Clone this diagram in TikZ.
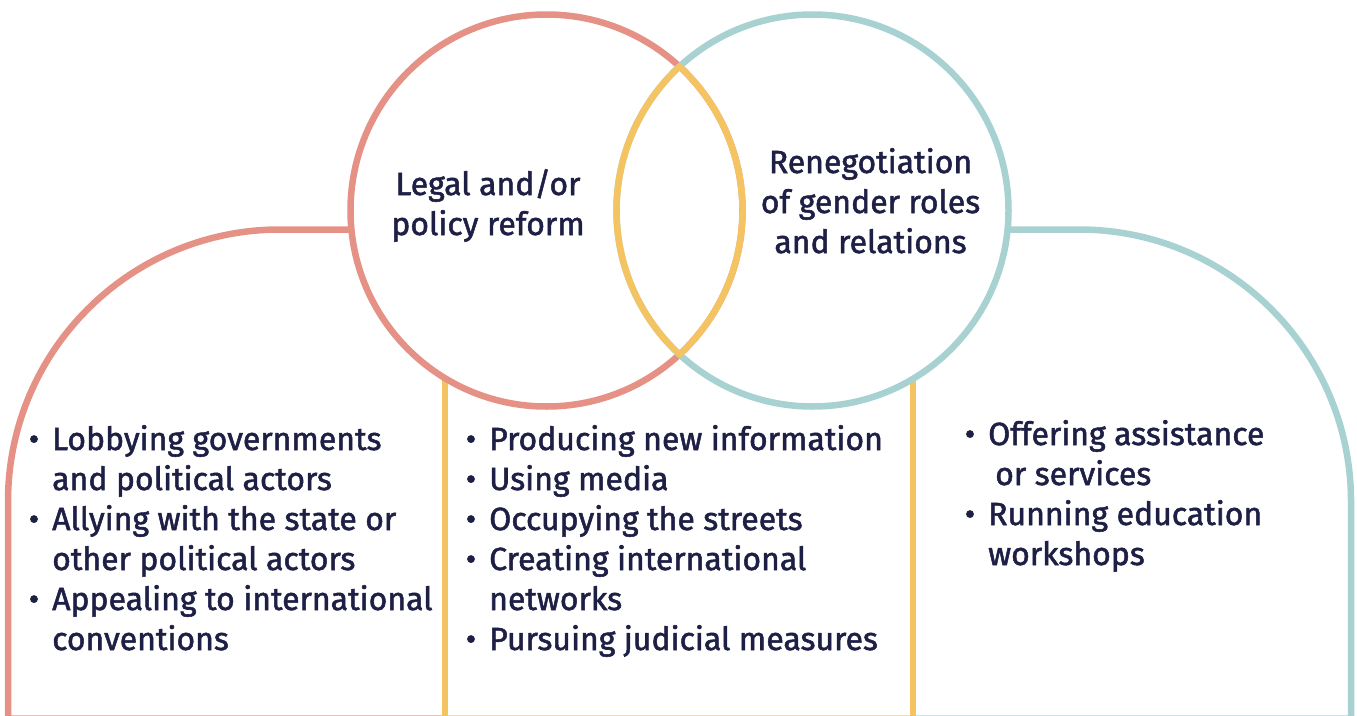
\documentclass[tikz,border=0pt]{standalone}
\usepackage{fontspec}
\setmainfont{Fira Sans}[FakeBold=1.6]
\definecolor{salmon}{RGB}{229,145,134}
\definecolor{tealc}{RGB}{167,210,209}
\definecolor{gold}{RGB}{245,196,98}
\definecolor{ink}{RGB}{30,31,69}
\begin{document}
\begin{tikzpicture}[x=1pt,y=-1pt,
  ring/.style={line width=6.5pt},
  txt/.style={inner sep=0pt, text=ink, font=\fontsize{32}{40}\selectfont},
  lbl/.style={txt, anchor=base},
  itm/.style={txt, anchor=base west},
  bul/.style={txt, anchor=base}]
\useasboundingbox (0,0) rectangle (1357,715);
\clip (0,0) rectangle (1357,715);
\fill[white] (0,0) rectangle (1357,715);
% bottom faint edge
\draw[line width=2pt, salmon!60] (8,715.5) -- (445,715.5);
\draw[line width=2pt, gold!60] (445,715.5) -- (913,715.5);
\draw[line width=2pt, tealc!60] (913,715.5) -- (1351,715.5);
% yellow dividers
\draw[ring,gold] (445,378) -- (445,720);
\draw[ring,gold] (913,378) -- (913,720);
% arches
\draw[ring,salmon] (352,229.5) -- (280,229.5) arc[start angle=-90,end angle=-180,radius=272] -- (8,720);
\draw[ring,tealc] (1007,229.5) -- (1079,229.5) arc[start angle=-90,end angle=0,radius=272] -- (1351,720);
% circles
\draw[ring,salmon] (546.5,210.5) circle[radius=196];
\draw[ring,tealc] (812.5,210.5) circle[radius=196];
% lens
\draw[ring,gold,line join=round] (679.5,66.5) arc[start angle=-47.27,end angle=47.27,radius=196]
  arc[start angle=132.73,end angle=227.27,radius=196] -- cycle;
% circle labels
\node[lbl] (l1) at (488,195) {Legal and/or};
\node[lbl] (l2) at (488,235) {policy reform};
\node[lbl] (r1) at (870.5,173) {Renegotiation};
\node[lbl] (r2) at (870.5,213) {of gender roles};
\node[lbl] (r3) at (870.5,253) {and relations};
% left list
\node[bul] (lb1) at (34,450) {•};
\node[itm] (la1) at (52,450) {Lobbying governments};
\node[itm] (la2) at (52,490) {and political actors};
\node[bul] (lb2) at (34,530) {•};
\node[itm] (la3) at (52,530) {Allying with the state or};
\node[itm] (la4) at (52,570) {other political actors};
\node[bul] (lb3) at (34,610) {•};
\node[itm] (la5) at (52,610) {Appealing to international};
\node[itm] (la6) at (52,650) {conventions};
% middle list
\node[bul] (mb1) at (471,450) {•};
\node[itm] (ma1) at (489,450) {Producing new information};
\node[bul] (mb2) at (471,490) {•};
\node[itm] (ma2) at (489,490) {Using media};
\node[bul] (mb3) at (471,530) {•};
\node[itm] (ma3) at (489,530) {Occupying the streets};
\node[bul] (mb4) at (471,570) {•};
\node[itm] (ma4) at (489,570) {Creating international};
\node[itm] (ma5) at (489,610) {networks};
\node[bul] (mb5) at (471,650) {•};
\node[itm] (ma6) at (489,650) {Pursuing judicial measures};
% right list
\node[bul] (rb1) at (970,445) {•};
\node[itm] (ra1) at (988,445) {Offering assistance};
\node[itm] (ra2) at (995,485) {or services};
\node[bul] (rb2) at (970,525) {•};
\node[itm] (ra3) at (988,525) {Running education};
\node[itm] (ra4) at (988,565) {workshops};
\end{tikzpicture}
\end{document}
